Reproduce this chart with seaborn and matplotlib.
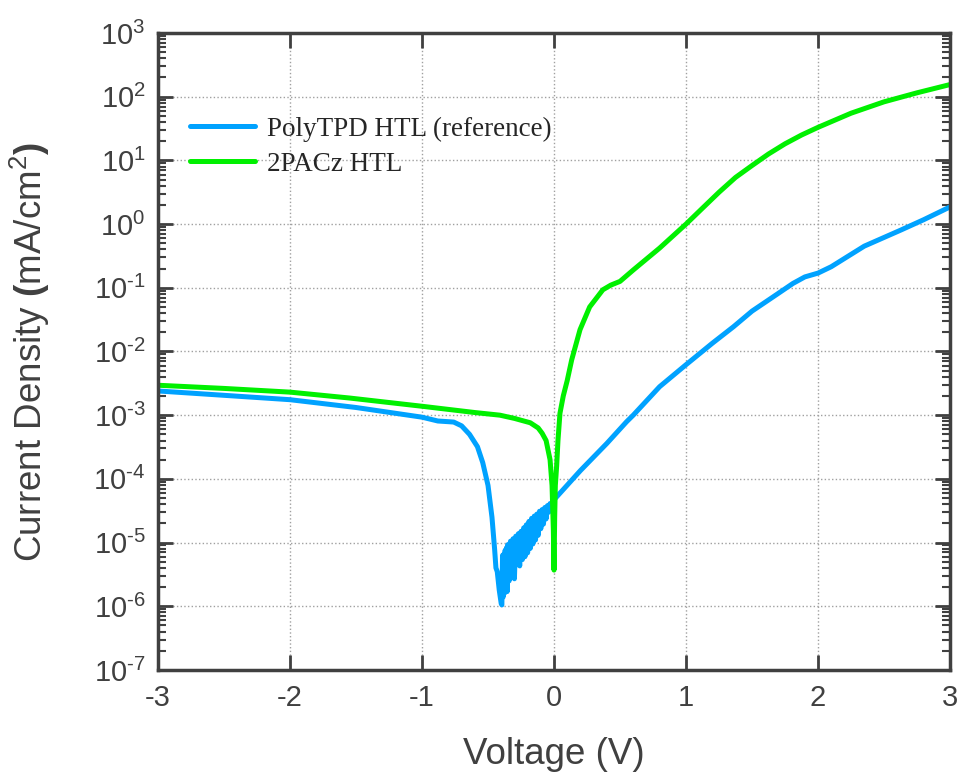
import numpy as np
import pandas as pd
import matplotlib
matplotlib.use("Agg")
import matplotlib.pyplot as plt
import matplotlib.ticker as mticker
import seaborn as sns

# PolyTPD HTL (reference) - voltage (V) and current density (mA/cm2)
polytpd_v = [-3.0, -2.5, -2.0, -1.5, -1.0, -0.88, -0.80, -0.76, -0.70, -0.64,
             -0.58, -0.54, -0.50, -0.47, -0.45, -0.44, -0.43, -0.415, -0.40, -0.395,
             -0.39, -0.385, -0.38, -0.375, -0.37, -0.365, -0.36, -0.355, -0.35, -0.34,
             -0.33, -0.32, -0.31, -0.30, -0.29, -0.28, -0.27, -0.26, -0.25, -0.24,
             -0.23, -0.22, -0.21, -0.20, -0.19, -0.18, -0.17, -0.16, -0.15, -0.14,
             -0.13, -0.12, -0.11, -0.10, -0.09, -0.08, -0.07, -0.06, -0.05, -0.04,
             -0.03, -0.02, 0.0, 0.2, 0.4, 0.55, 0.6, 0.8, 1.0, 1.2,
             1.36, 1.5, 1.66, 1.81, 1.9, 2.0, 2.1, 2.35, 2.63, 2.8, 3.0]
polytpd_j = [2.4e-3, 2.05e-3, 1.75e-3, 1.32e-3, 9.3e-4, 8.1e-4, 7.9e-4, 7.8e-4, 6.8e-4, 5.0e-4,
             3.2e-4, 1.8e-4, 7.9e-5, 2.5e-5, 7.9e-6, 4.0e-6, 3.5e-6, 1.8e-6, 1.1e-6, 1.05e-6,
             6.3e-6, 1.4e-6, 6.6e-6, 1.6e-6, 7.6e-6, 1.8e-6, 8.3e-6, 1.7e-6, 9.3e-6, 2.5e-6,
             1.05e-5, 2.9e-6, 1.15e-5, 2.7e-6, 1.26e-5, 4.5e-6, 1.38e-5, 4.3e-6, 1.5e-5, 5.4e-6,
             1.7e-5, 6.0e-6, 1.9e-5, 6.9e-6, 2.15e-5, 8.1e-6, 2.4e-5, 9.5e-6, 2.6e-5, 1.1e-5,
             2.8e-5, 1.3e-5, 3.1e-5, 1.65e-5, 3.3e-5, 1.95e-5, 3.55e-5, 2.35e-5, 3.8e-5, 3.0e-5,
             4.1e-5, 3.7e-5, 4.7e-5, 1.35e-4, 3.6e-4, 7.9e-4, 1.0e-3, 2.8e-3, 6.2e-3, 1.35e-2,
             2.45e-2, 4.3e-2, 7.2e-2, 1.17e-1, 1.48e-1, 1.7e-1, 2.14e-1, 4.5e-1, 8.1e-1, 1.17, 1.86]

# 2PACz HTL
pacz_v = [-3.0, -2.5, -2.0, -1.55, -1.0, -0.6, -0.41, -0.30, -0.18, -0.12,
          -0.09, -0.06, -0.03, -0.015, -0.005, 0.0, 0.005, 0.01, 0.02, 0.03,
          0.045, 0.07, 0.10, 0.134, 0.197, 0.27, 0.37, 0.43, 0.5, 0.6,
          0.8, 1.0, 1.125, 1.25, 1.375, 1.5, 1.625, 1.75, 1.875, 2.0,
          2.25, 2.5, 2.75, 3.0]
pacz_j = [2.95e-3, 2.63e-3, 2.3e-3, 1.86e-3, 1.38e-3, 1.1e-3, 1.0e-3, 8.9e-4, 7.6e-4, 6.3e-4,
          5.2e-4, 4.0e-4, 2.0e-4, 7.9e-5, 1.6e-5, 3.7e-6, 2.5e-5, 7.9e-5, 1.6e-4, 4.0e-4,
          1.07e-3, 2.0e-3, 3.5e-3, 7.4e-3, 2.2e-2, 5.0e-2, 9.3e-2, 1.1e-1, 1.26e-1, 1.9e-1,
          4.2e-1, 1.0, 1.78, 3.16, 5.4, 8.3, 12.6, 18.2, 25.0, 33.0,
          55.0, 83.0, 115.0, 155.0]

labels = ["PolyTPD HTL (reference)", "2PACz HTL"]
colors = ["#00A2FF", "#00F000"]

df = pd.concat([
    pd.DataFrame({"V": polytpd_v, "J": polytpd_j, "device": labels[0]}),
    pd.DataFrame({"V": pacz_v, "J": pacz_j, "device": labels[1]}),
])

sns.set_theme(style="ticks")
plt.rcParams["font.family"] = ["Liberation Sans", "DejaVu Sans"]
plt.rcParams["mathtext.fontset"] = "custom"
plt.rcParams["mathtext.rm"] = "Liberation Sans"
plt.rcParams["mathtext.it"] = "Liberation Sans:italic"
plt.rcParams["mathtext.bf"] = "Liberation Sans:bold"
plt.rcParams["axes.unicode_minus"] = False


def decade_label(val, pos):
    # 10^n with a short hyphen in the exponent, like the original figure
    e = int(round(np.log10(val)))
    exp = r"\text{-}%d" % abs(e) if e < 0 else "%d" % e
    return r"$10^{%s}$" % exp


dark = "#404040"
fig = plt.figure(figsize=(9.61, 7.74), dpi=100)
ax = fig.add_axes([0.1644, 0.1344, 0.8242, 0.823])

sns.lineplot(data=df, x="V", y="J", hue="device", palette=colors, hue_order=labels,
             estimator=None, sort=False, lw=3.6, ax=ax)

ax.set_yscale("log")
ax.set_xlim(-3, 3)
ax.set_ylim(1e-7, 1e3)
ax.set_xticks([-3, -2, -1, 0, 1, 2, 3])
ax.set_xticklabels(["-3", "-2", "-1", "0", "1", "2", "3"])
ax.yaxis.set_major_locator(mticker.LogLocator(base=10, numticks=20))
ax.yaxis.set_major_formatter(mticker.FuncFormatter(decade_label))
ax.yaxis.set_minor_locator(mticker.LogLocator(base=10, subs=np.arange(2, 10), numticks=100))
ax.yaxis.set_minor_formatter(mticker.NullFormatter())

ax.grid(True, which="major", linestyle=":", color="#a0a0a0", lw=1)
for s in ax.spines.values():
    s.set_color(dark)
    s.set_linewidth(2.5)
ax.tick_params(which="both", direction="in", top=True, right=True, color=dark,
               labelcolor=dark, labelsize=21, width=2)
ax.tick_params(which="major", length=11)
ax.tick_params(which="minor", length=6, width=1.5)
ax.tick_params(axis="x", pad=10)
ax.tick_params(axis="y", pad=9)

ax.set_xlabel("Voltage (V)", fontsize=26.5, color=dark, labelpad=18)
ax.set_ylabel(r"Current Density $\mathbf{(}$mA/cm$^{2}$$\mathbf{)}$", fontsize=26.5,
              color=dark, labelpad=30)

ax.legend(loc="upper left", bbox_to_anchor=(0.027, 0.886), frameon=False,
          prop={"family": "Liberation Serif", "size": 19.5}, handlelength=2.4,
          handletextpad=0.45, labelspacing=0.38, borderaxespad=0)

fig.savefig("out.png", dpi=100)
